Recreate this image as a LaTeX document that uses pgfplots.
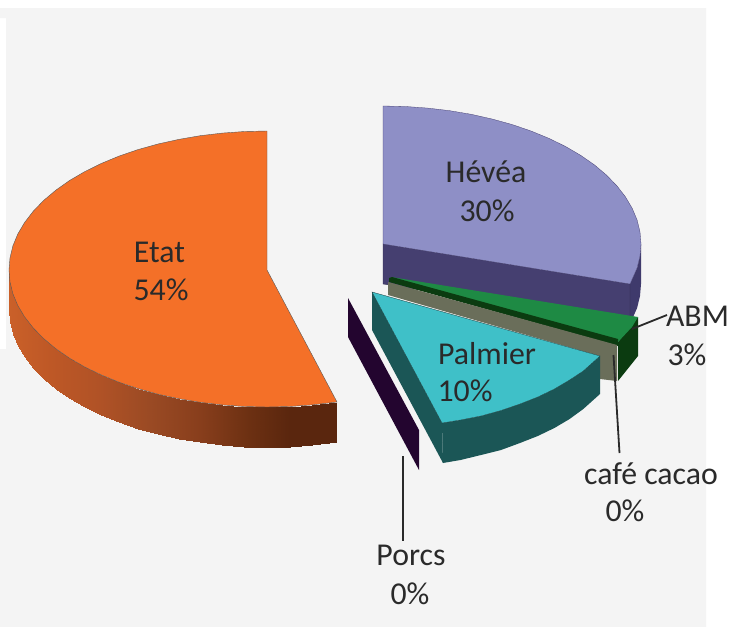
\documentclass[border=0pt]{standalone}
\usepackage{pgfplots}
\pgfplotsset{compat=1.18}
\usepackage{fontspec}
\setmainfont{Carlito}
\definecolor{bg}{HTML}{F4F4F4}
\definecolor{orangetop}{HTML}{F47028}
\definecolor{hevtop}{HTML}{8E8FC6}
\definecolor{hevside}{HTML}{453F70}
\definecolor{hevout}{HTML}{3F3A6C}
\definecolor{abmtop}{HTML}{1E8A44}
\definecolor{abmside}{HTML}{0B3B10}
\definecolor{cafe}{HTML}{6A6E5A}
\definecolor{paltop}{HTML}{3FC0C8}
\definecolor{palside}{HTML}{1B5656}
\definecolor{porcs}{HTML}{23052F}
\definecolor{txt}{HTML}{2A2A2A}
\tikzset{lab/.style={anchor=base,inner sep=0pt,text=txt,font=\fontsize{31.8}{38}\selectfont}}
\begin{document}
\begin{tikzpicture}
\begin{axis}[at={(0,0)},anchor=south west,width=729pt,height=627pt,scale only axis,
 xmin=0,xmax=729,ymin=0,ymax=627,y dir=reverse,hide axis,
 colormap={orangeside}{rgb255(9pt)=(202,96,41) rgb255(50pt)=(190,88,38) rgb255(100pt)=(176,82,38) rgb255(150pt)=(154,74,36) rgb255(200pt)=(136,62,28) rgb255(250pt)=(108,48,18) rgb255(290pt)=(90,38,14) rgb255(337pt)=(90,38,14)},
 point meta min=9,point meta max=337]
% background
\addplot[fill=white,draw=none] coordinates {(0,0)(729,0)(729,627)(0,627)} -- cycle;
\addplot[fill=bg,draw=none] coordinates {(0,8)(706,8)(706,627)(0,627)(0,349)(6,349)(6,18)(0,18)} -- cycle;
% Etat side
\addplot[patch,patch type=rectangle,shader=interp,point meta=x] coordinates {
(9,270)(10,281.9)(10,321.9)(9,310)
(10,281.9)(12.9,293.8)(12.9,333.8)(10,321.9)
(12.9,293.8)(17.8,305.5)(17.8,345.5)(12.9,333.8)
(17.8,305.5)(24.6,316.9)(24.6,356.9)(17.8,345.5)
(24.6,316.9)(33.2,327.9)(33.2,367.9)(24.6,356.9)
(33.2,327.9)(43.6,338.5)(43.6,378.5)(33.2,367.9)
(43.6,338.5)(55.7,348.6)(55.7,388.6)(43.6,378.5)
(55.7,348.6)(69.4,358.1)(69.4,398.1)(55.7,388.6)
(69.4,358.1)(84.6,366.9)(84.6,406.9)(69.4,398.1)
(84.6,366.9)(101.2,374.9)(101.2,414.9)(84.6,406.9)
(101.2,374.9)(119,382.2)(119,422.2)(101.2,414.9)
(119,382.2)(138,388.6)(138,428.6)(119,422.2)
(138,388.6)(158,394.2)(158,434.2)(138,428.6)
(158,394.2)(178.8,398.7)(178.8,438.7)(158,434.2)
(178.8,398.7)(200.2,402.3)(200.2,442.3)(178.8,438.7)
(200.2,402.3)(222.2,404.9)(222.2,444.9)(200.2,442.3)
(222.2,404.9)(244.5,406.5)(244.5,446.5)(222.2,444.9)
(244.5,406.5)(267,407)(267,447)(244.5,446.5)
(267,407)(289.5,406.5)(289.5,446.5)(267,447)
(289.5,406.5)(311.8,404.9)(311.8,444.9)(289.5,446.5)
(311.8,404.9)(337,402)(337,442)(311.8,444.9)
};
% Etat top
\addplot[fill=orangetop,draw=black!65,line width=0.4pt] coordinates {(267,270)(267,131)(244.5,131.5)(222.2,133.1)(200.2,135.7)(178.8,139.4)(158,144)(138,149.6)(119,156.1)(101.2,163.5)(84.6,171.7)(69.4,180.6)(55.7,190.3)(43.6,200.5)(33.2,211.3)(24.6,222.5)(17.8,234)(12.9,245.9)(10,257.9)(9,270)(10,281.9)(12.9,293.8)(17.8,305.5)(24.6,316.9)(33.2,327.9)(43.6,338.5)(55.7,348.6)(69.4,358.1)(84.6,366.9)(101.2,374.9)(119,382.2)(138,388.6)(158,394.2)(178.8,398.7)(200.2,402.3)(222.2,404.9)(244.5,406.5)(267,407)(289.5,406.5)(311.8,404.9)(337,402)} -- cycle;
% Hevea sides
\addplot[fill=hevout,draw=none] coordinates {(630,284)(637.1,268)(640,256)(641,244)(641,284)(640,296)(637.1,308)(630,324)} -- cycle;
\addplot[fill=hevside,draw=hevside!70!black,line width=0.3pt] coordinates {(383,244)(630,284)(630,324)(383,284)} -- cycle;
% Hevea top
\addplot[fill=hevtop,draw=hevside,line width=0.3pt] coordinates {(383,244)(383,106)(405.5,106.5)(427.8,108.1)(449.8,110.7)(471.2,114.3)(492,119)(512,124.5)(531,131)(548.8,138.3)(565.4,146.4)(580.6,155.3)(594.3,164.8)(606.4,175)(616.8,185.7)(625.4,196.8)(632.2,208.3)(637.1,220)(640,232)(641,244)(640,256)(637.1,268)(630,284)} -- cycle;
% ABM
\addplot[fill=abmside,draw=none] coordinates {(638,317)(638,356)(618,381)(618,342)} -- cycle;
\addplot[fill=abmtop,draw=none] coordinates {(391,277)(638,317)(632,327)(618,342)} -- cycle;
\addplot[fill=abmside,draw=none] coordinates {(389,278)(392,277)(618,339)(618,346)(389,282)} -- cycle;
% cafe cacao
\addplot[fill=cafe,draw=none] coordinates {(388,282)(617,345)(617,381)(600,379)(600,356)(388,295)} -- cycle;
% Palmier
\addplot[fill=palside,draw=none] coordinates {(372,292)(442,423)(443,463)(372,330)} -- cycle;
\addplot[fill=palside,draw=none] coordinates {(442,423)(460.5,420)(481,416)(501,410.5)(520,404)(537.8,397)(554.4,389)(569.6,380)(583.3,371)(600,356)(600,394)(583.3,409)(569.6,419)(554.4,428)(537.8,436)(520,443)(501,450)(481,455)(460.5,460)(443,463)} -- cycle;
\addplot[fill=paltop,draw=palside!60!black,line width=0.3pt] coordinates {(372,292)(600,356)(583.3,371)(569.6,380)(554.4,389)(537.8,397)(520,404)(501,410.5)(481,416)(460.5,420)(442,423)} -- cycle;
% Porcs
\addplot[fill=porcs,draw=none] coordinates {(348,298)(419,430)(419,470)(348,337)} -- cycle;
% leaders
\addplot[draw=txt,line width=2pt] coordinates {(402.5,456)(402.5,541)};
\addplot[draw=txt,line width=1.8pt] coordinates {(613.5,355)(619.5,453)};
\addplot[draw=txt,line width=1.8pt] coordinates {(632,329)(667,315)};
% labels
\node[lab] at (axis cs:486,182) {Hévéa};
\node[lab] at (axis cs:487,221) {30\%};
\node[lab] at (axis cs:159.5,262) {Etat};
\node[lab] at (axis cs:161,300) {54\%};
\node[lab] at (axis cs:487,364) {Palmier};
\node[lab] at (axis cs:465,401) {10\%};
\node[lab] at (axis cs:697.5,326) {ABM};
\node[lab] at (axis cs:687,365) {3\%};
\node[lab] at (axis cs:651,484) {café cacao};
\node[lab] at (axis cs:625,521) {0\%};
\node[lab] at (axis cs:411,565) {Porcs};
\node[lab] at (axis cs:410,604) {0\%};
\end{axis}
\end{tikzpicture}
\end{document}
